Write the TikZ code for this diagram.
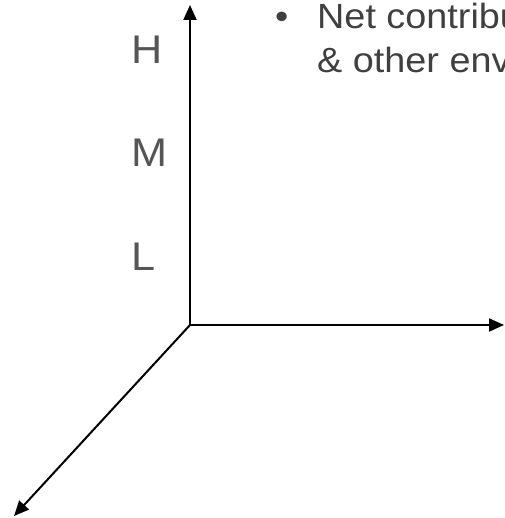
\documentclass[tikz,border=0pt]{standalone}
\usepackage{fontspec}
\setmainfont{Liberation Sans}
\newfontfamily\widesans[FakeStretch=1.08]{Liberation Sans}
\usetikzlibrary{arrows.meta}

\definecolor{notegray}{HTML}{404040}
\definecolor{levelgray}{HTML}{555555}

\tikzset{
  axis/.style={line width=2pt, -{Triangle[length=15pt,width=13pt]}},
  level/.style={text=levelgray, font=\widesans\fontsize{40}{40}\selectfont, inner sep=0pt, anchor=base west},
}

\begin{document}
\begin{tikzpicture}[x=1pt, y=-1pt]
    \useasboundingbox (0,0) rectangle (504,518);
    \clip (0,0) rectangle (504,518);

    \coordinate (origin) at (190,325);
    \coordinate (ytip) at (190,5);
    \coordinate (xtip) at (504,325);
    \coordinate (ztip) at (14,516);

    \draw[axis] (origin) -- (ytip);
    \draw[axis] (origin) -- (xtip);
    \draw[axis] (origin) -- (ztip);

    \node[level] (high) at (131,64) {H};
    \node[level] (mid) at (131,167) {M};
    \node[level] (low) at (131,270) {L};

    % bullet text, cut off at the right edge
    \node[text=notegray, font=\widesans\fontsize{35}{44}\selectfont, inner sep=0pt,
          anchor=base west, align=left] (note) at (275,73)
        {\makebox[42pt][l]{•}Net contribu\\
         \hspace*{42pt}\& other env};
\end{tikzpicture}
\end{document}
